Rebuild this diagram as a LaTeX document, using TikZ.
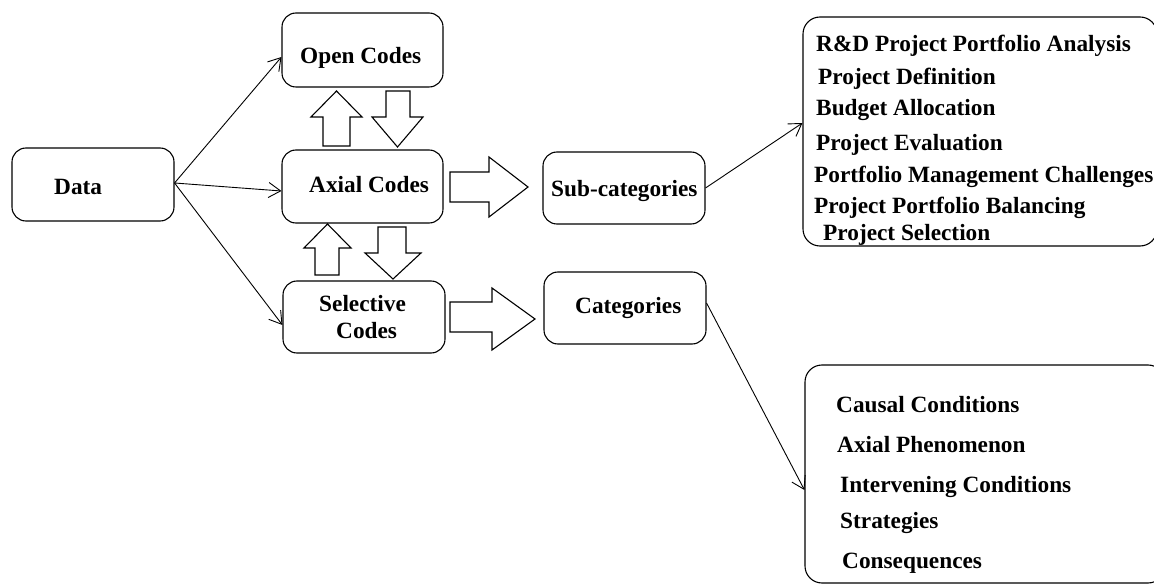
\documentclass[tikz,border=0pt]{standalone}
\usepackage{fontspec}
\setmainfont{Liberation Serif}
\usetikzlibrary{arrows.meta}
\begin{document}
\begin{tikzpicture}[x=1pt,y=-1pt,
  box/.style={draw, line width=1.1pt, rounded corners=14pt, inner sep=0pt},
  lbl/.style={anchor=base west, inner sep=0pt, font=\fontsize{23.3}{28}\selectfont\bfseries},
  link/.style={line width=0.9pt, -{Straight Barb[length=12pt,width=15pt]}},
  blk/.style={draw, line width=1.1pt, fill=white, line join=miter}]
\useasboundingbox (0,0) rectangle (1154,585);
\clip (0,0) rectangle (1154,585);

% coding stages
\node[box, minimum width=162pt, minimum height=73pt] (data) at (93,184.5) {};
\node[box, minimum width=161pt, minimum height=74pt] (open) at (362.5,50) {};
\node[box, minimum width=161pt, minimum height=73pt] (axial) at (362.5,186.5) {};
\node[box, minimum width=162pt, minimum height=72pt] (sel) at (364,317) {};
\node[box, minimum width=162pt, minimum height=72pt] (sub) at (624,188) {};
\node[box, minimum width=162pt, minimum height=72pt] (cat) at (625,308) {};
\node[box, rounded corners=17pt, minimum width=354pt, minimum height=229pt] (sublist) at (980,131.5) {};
\node[box, rounded corners=17pt, minimum width=360pt, minimum height=218pt] (catlist) at (985,474) {};

% stage labels
\node[lbl] (tdata) at (54,195) {Data};
\node[lbl] (topen) at (300,64) {Open Codes};
\node[lbl] (taxial) at (309,193) {Axial Codes};
\node[lbl] (tsel1) at (319,312) {Selective};
\node[lbl] (tsel2) at (336,338) {Codes};
\node[lbl] (tsub) at (551,197) {Sub-categories};
\node[lbl] (tcat) at (575,314) {Categories};

% sub-category list
\node[lbl] (s1) at (816,52) {R\&D Project Portfolio Analysis};
\node[lbl] (s2) at (818,85) {Project Definition};
\node[lbl] (s3) at (816,116) {Budget Allocation};
\node[lbl] (s4) at (816,151) {Project Evaluation};
\node[lbl] (s5) at (814,183) {Portfolio Management Challenges};
\node[lbl] (s6) at (814,214) {Project Portfolio Balancing};
\node[lbl] (s7) at (823,241) {Project Selection};

% category list
\node[lbl] (c1) at (836,412) {Causal Conditions};
\node[lbl] (c2) at (837,452) {Axial Phenomenon};
\node[lbl] (c3) at (840,492) {Intervening Conditions};
\node[lbl] (c4) at (840,528) {Strategies};
\node[lbl] (c5) at (842,568) {Consequences};

% thin connectors
\draw[link] ([yshift=1.5pt]data.east) -- ([yshift=-7pt]open.west);
\draw[link] ([yshift=1.5pt]data.east) -- ([yshift=-4.5pt]axial.west);
\draw[link] ([yshift=1.5pt]data.east) -- ([yshift=-8pt]sel.west);
\draw[link] (sub.east) -- ([yshift=8.5pt]sublist.west);
\draw[link] ([yshift=5pt]cat.east) -- ([yshift=-16pt]catlist.west);

% block arrows between the coding stages
\draw[blk] (323,146) -- (323,117) -- (311,117) -- (336.5,91) -- (362,117) -- (350,117) -- (350,146) -- cycle;
\draw[blk] (386,91) -- (410,91) -- (410,117) -- (423,117) -- (397.5,147) -- (372,117) -- (386,117) -- cycle;
\draw[blk] (315,275) -- (315,248) -- (304,248) -- (327.5,224) -- (351,248) -- (339,248) -- (339,275) -- cycle;
\draw[blk] (378,227) -- (406,227) -- (406,253) -- (421,253) -- (393,279) -- (365,253) -- (378,253) -- cycle;
\draw[blk] (450,172) -- (489,172) -- (489,157) -- (528,187) -- (489,217) -- (489,202) -- (450,202) -- cycle;
\draw[blk] (450,302) -- (492,302) -- (492,288) -- (535,319) -- (492,350) -- (492,332) -- (450,332) -- cycle;
\end{tikzpicture}
\end{document}
